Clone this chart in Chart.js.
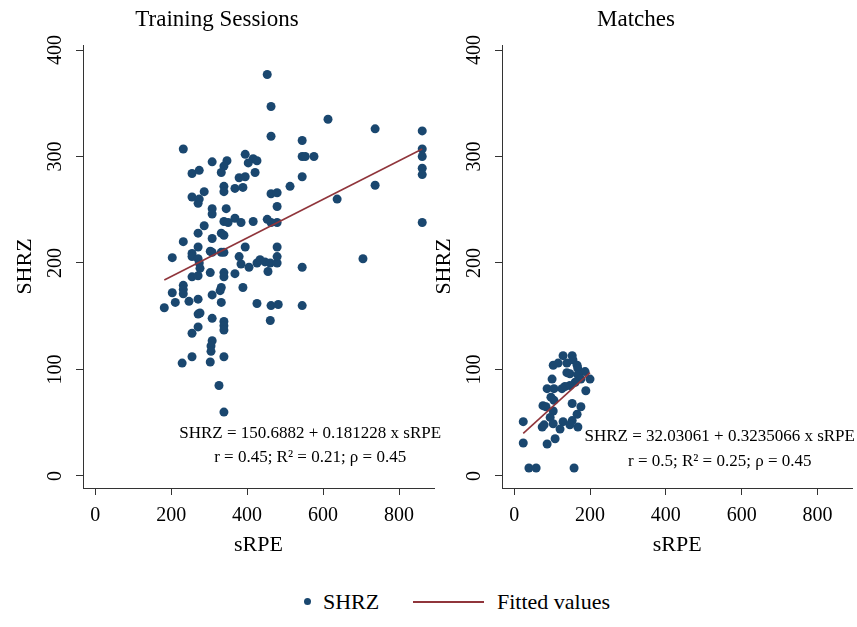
<!DOCTYPE html>
<html>
<head>
<meta charset="utf-8">
<script src="https://cdn.jsdelivr.net/npm/chart.js@4.4.1/dist/chart.umd.min.js"></script>
<style>
  body { margin: 0; background: #fff; font-family: "Liberation Serif", serif; }
  #wrap { position: relative; width: 857px; height: 627px; }
  canvas { position: absolute; top: 0; }
  .leg { position: absolute; font-size: 22px; line-height: 26px; color: #000; }
</style>
</head>
<body>
<div id="wrap">
  <canvas id="trainChart" width="460" height="570" style="left:0"></canvas>
  <canvas id="matchChart" width="438" height="570" style="left:419px"></canvas>
  <div style="position:absolute;left:304px;top:598px;width:7px;height:7px;border-radius:50%;background:#1a476f"></div>
  <div class="leg" style="left:323px;top:589px">SHRZ</div>
  <div style="position:absolute;left:413px;top:601px;width:71px;height:1.5px;background:#90353b"></div>
  <div class="leg" style="left:497px;top:589px">Fitted values</div>
</div>
<script>
// tick labels (shared by both panels)
const xTicks = [0, 200, 400, 600, 800];
const yTicks = [0, 100, 200, 300, 400];

// Training sessions: sRPE vs SHRZ
const trainX = [453, 463, 463, 232, 308, 347, 339, 395, 416, 426, 403, 255, 274, 332, 421, 379, 395, 339, 339, 368,
  389, 287, 255, 274, 271, 463, 479, 513, 479, 308, 308, 345, 368, 384, 339, 350, 416, 453, 479, 463,
  287, 271, 308, 332, 339, 232, 271, 303, 308, 255, 255, 203, 271, 274, 276, 332, 339, 395, 379, 384,
  405, 426, 434, 447, 455, 461, 479, 479, 479, 303, 339, 339, 368, 255, 271, 232, 232, 232, 203, 211,
  182, 247, 271, 308, 332, 329, 332, 389, 426, 463, 482, 461, 271, 276, 308, 271, 255, 339, 339, 339,
  308, 305, 305, 255, 229, 303, 339, 326, 339, 545, 545, 553, 576, 545, 613, 737, 861, 861, 861, 861,
  861, 737, 637, 861, 705, 545, 545];
const trainY = [377, 347, 319, 307, 295, 296, 291, 302, 298, 296, 294, 284, 287, 285, 285, 280, 281, 272, 267, 270,
  271, 267, 262, 260, 256, 265, 266, 272, 253, 251, 246, 251, 242, 238, 239, 238, 239, 241, 238, 238,
  235, 228, 223, 228, 226, 220, 215, 211, 210, 209, 206, 205, 204, 200, 195, 210, 210, 215, 206, 199,
  196, 200, 203, 201, 192, 200, 200, 206, 215, 191, 191, 187, 190, 187, 188, 179, 175, 171, 172, 163,
  158, 164, 166, 170, 177, 174, 163, 177, 162, 160, 161, 146, 152, 153, 148, 140, 134, 145, 141, 137,
  127, 122, 117, 112, 106, 107, 112, 85, 60, 315, 300, 300, 300, 281, 335, 326, 324, 307, 300, 289,
  283, 273, 260, 238, 204, 196, 160];
const trainFitX = [182, 861];
const trainFitY = [184, 307];

// Matches: sRPE vs SHRZ
const matchX = [129, 153, 103, 116, 139, 155, 166, 168, 139, 147, 187, 100, 168, 176, 200, 161, 147, 134, 126, 87,
  105, 97, 105, 189, 76, 84, 103, 153, 176, 166, 95, 129, 153, 147, 103, 74, 79, 24, 121, 168,
  108, 87, 24, 39, 58, 158];
const matchY = [113, 113, 104, 106, 106, 109, 104, 101, 97, 96, 98, 91, 95, 91, 91, 88, 85, 84, 82, 82,
  82, 74, 71, 80, 66, 65, 61, 68, 65, 58, 55, 51, 52, 48, 49, 46, 48, 51, 44, 46,
  35, 30, 31, 7.5, 7.5, 7.5];
const matchFitX = [24, 200];
const matchFitY = [40, 97];

const serif = '"Liberation Serif", serif';
const axisColor = '#333';

function pts(xs, ys) {
  return xs.map((x, i) => ({ x: x, y: ys[i] }));
}

// regression text written inside the plot
const notesPlugin = {
  id: 'notes',
  afterDatasetsDraw(chart, args, opts) {
    const ctx = chart.ctx;
    const px = chart.scales.x.getPixelForValue(opts.x);
    ctx.save();
    ctx.font = '17px ' + serif;
    ctx.fillStyle = '#000';
    ctx.textAlign = 'center';
    ctx.textBaseline = 'middle';
    opts.lines.forEach((t, i) => {
      ctx.fillText(t, px, chart.scales.y.getPixelForValue(opts.y[i]));
    });
    ctx.restore();
  }
};

function makePanel(id, title, scatter, fit, note, padRight) {
  new Chart(document.getElementById(id), {
    type: 'scatter',
    data: {
      datasets: [
        {
          label: 'Fitted values',
          data: fit,
          type: 'line',
          showLine: true,
          borderColor: '#90353b',
          borderWidth: 1.6,
          pointRadius: 0,
          fill: false
        },
        {
          label: 'SHRZ',
          data: scatter,
          backgroundColor: '#1a476f',
          borderWidth: 0,
          pointRadius: 4.5
        }
      ]
    },
    options: {
      responsive: false,
      animation: false,
      layout: { padding: { left: 0, right: padRight, top: 0, bottom: 0 } },
      plugins: {
        legend: { display: false },
        tooltip: { enabled: false },
        title: {
          display: true,
          text: title,
          color: '#000',
          font: { family: serif, size: 23, weight: 'normal' },
          padding: { top: 6, bottom: 11.4 }
        },
        notes: note
      },
      scales: {
        x: {
          type: 'linear',
          min: -32,
          max: 892,
          afterBuildTicks: s => { s.ticks = xTicks.map(v => ({ value: v })); },
          afterFit: s => { s.height = 82; },
          border: { display: true, color: axisColor, width: 1 },
          grid: { drawOnChartArea: false, drawTicks: true, tickLength: 7, color: axisColor },
          ticks: { color: '#000', font: { family: serif, size: 20 }, padding: 9 },
          title: {
            display: true,
            text: 'sRPE',
            color: '#000',
            font: { family: serif, size: 22 },
            padding: { top: 0, bottom: 12 }
          }
        },
        y: {
          type: 'linear',
          min: -11.3,
          max: 404.7,
          afterBuildTicks: s => { s.ticks = yTicks.map(v => ({ value: v })); },
          afterFit: s => { s.width = 83; },
          border: { display: true, color: axisColor, width: 1 },
          grid: { drawOnChartArea: false, drawTicks: true, tickLength: 7, color: axisColor },
          ticks: {
            color: '#000',
            font: { family: serif, size: 20 },
            padding: 5,
            minRotation: 90,
            maxRotation: 90,
            crossAlign: 'center'
          },
          title: {
            display: true,
            text: 'SHRZ',
            color: '#000',
            font: { family: serif, size: 22 },
            padding: { top: 11.8, bottom: 0 }
          }
        }
      }
    },
    plugins: [notesPlugin]
  });
}

makePanel('trainChart', 'Training Sessions', pts(trainX, trainY), pts(trainFitX, trainFitY), {
  x: 566, y: [39.4, 16.9],
  lines: ['SHRZ = 150.6882 + 0.181228 x sRPE', 'r = 0.45; R\u00b2 = 0.21; \u03c1 = 0.45']
}, 26);
makePanel('matchChart', 'Matches', pts(matchX, matchY), pts(matchFitX, matchFitY), {
  x: 542, y: [36.6, 14],
  lines: ['SHRZ = 32.03061 + 0.3235066 x sRPE', 'r = 0.5; R\u00b2 = 0.25; \u03c1 = 0.45']
}, 4);
</script>
</body>
</html>
